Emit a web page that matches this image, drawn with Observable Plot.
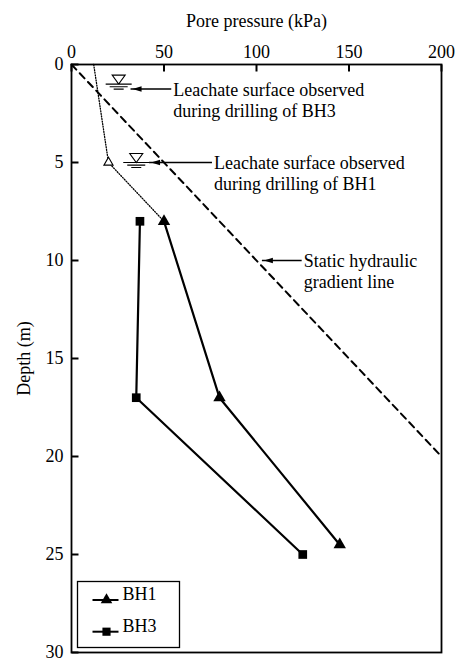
<!DOCTYPE html>
<html><head><meta charset="utf-8">
<script src="https://cdn.jsdelivr.net/npm/d3@7"></script>
<script src="https://cdn.jsdelivr.net/npm/@observablehq/plot@0.6"></script>
<style>body{margin:0;background:#fff} #chart svg{display:block}</style>
</head><body><div id="chart"></div>
<script>
// ---- data ----
const xTicks = [0, 50, 100, 150, 200];
const yTicks = [0, 5, 10, 15, 20, 25, 30];
const staticPressure = [0, 200];
const staticDepth = [0, 20];
const dottedPressure = [12, 20, 50];
const dottedDepth = [0, 5, 8];
const bh1Pressure = [50, 80, 145];
const bh1Depth = [8, 17, 24.5];
const bh3Pressure = [37, 35, 125];
const bh3Depth = [8, 17, 25];
const openTriPressure = [20];
const openTriDepth = [5];
const leachatePressure = [25.5, 35];
const leachateDepth = [1.0, 5];
const noteText = ["Leachate surface observed\nduring drilling of BH3", "Leachate surface observed\nduring drilling of BH1", "Static hydraulic\ngradient line"];
const noteX = [55, 77, 125.5];
const noteTip = [33, 43, 104];
const noteDepth = [1.25, 5, 10];
const legendLabels = ["BH1", "BH3"];
const legendSymbols = ["triangle", "square"];

// ---- tables ----
const pts = (xs, ys) => xs.map((x, i) => ({x, y: ys[i]}));
const staticLine = pts(staticPressure, staticDepth);
const dotted = pts(dottedPressure, dottedDepth);
const bh1 = pts(bh1Pressure, bh1Depth);
const bh3 = pts(bh3Pressure, bh3Depth);
const openTri = pts(openTriPressure, openTriDepth);
const leachate = pts(leachatePressure, leachateDepth);
const notes = noteText.map((t, i) => ({text: t, x: noteX[i], tip: noteTip[i], y: noteDepth[i]}));
const legend = legendLabels.map((l, i) => ({label: l, symbol: legendSymbols[i]}));

// ---- custom symbols ----
const waterSymbol = {draw(ctx) {
  ctx.moveTo(-6.5, -9); ctx.lineTo(6.5, -9); ctx.lineTo(0, 0); ctx.closePath();
  ctx.moveTo(-13, 0); ctx.lineTo(13, 0);
  ctx.moveTo(-9, 2.6); ctx.lineTo(9, 2.6);
  ctx.moveTo(-5, 5); ctx.lineTo(5, 5);
}};
const arrowHead = {draw(ctx) { ctx.moveTo(0, 0); ctx.lineTo(9, -2.8); ctx.lineTo(9, 2.8); ctx.closePath(); }};
const legendLine = {draw(ctx) { ctx.moveTo(-13, 0); ctx.lineTo(13, 0); }};
const tickDown = {draw(ctx) { ctx.moveTo(0, 0); ctx.lineTo(0, 7); }};
const tickRight = {draw(ctx) { ctx.moveTo(0, 0); ctx.lineTo(7, 0); }};

const font = "'Liberation Serif', 'Times New Roman', serif";

const legendMarks = legend.flatMap((d, i) => {
  const dy = -52.5 + i * 31.7;
  return [
    Plot.dot([d], {frameAnchor: "bottom-left", dx: 34, dy, symbol: legendLine, stroke: "black", strokeWidth: 2}),
    Plot.dot([d], {frameAnchor: "bottom-left", dx: 35, dy, symbol: d.symbol, r: d.symbol === "triangle" ? 4.3 : 4.6, fill: "black"}),
    Plot.text([d], {frameAnchor: "bottom-left", dx: 51, dy, text: "label", textAnchor: "start", fontSize: 18, fill: "black"})
  ];
});

const chart = Plot.plot({
  width: 461,
  height: 661,
  marginTop: 64,
  marginLeft: 71,
  marginRight: 20,
  marginBottom: 9,
  style: {fontFamily: font, fontSize: "18px", color: "black", background: "white"},
  x: {domain: [0, 200], axis: "top", ticks: xTicks, tickSize: 0, tickPadding: 7, label: "Pore pressure (kPa)", labelAnchor: "center", labelOffset: 50, labelArrow: "none"},
  y: {domain: [0, 30], reverse: true, ticks: yTicks, tickSize: 0, tickPadding: 8, label: "Depth (m)", labelAnchor: "center", labelOffset: 54, labelArrow: "none"},
  marks: [
    Plot.dot(xTicks, {x: d => d, frameAnchor: "top", symbol: tickDown, stroke: "black", strokeWidth: 2}),
    Plot.dot(yTicks, {y: d => d, frameAnchor: "left", symbol: tickRight, stroke: "black", strokeWidth: 2}),
    Plot.line(staticLine, {x: "x", y: "y", stroke: "black", strokeWidth: 2, strokeDasharray: "7,5"}),
    Plot.line(dotted, {x: "x", y: "y", stroke: "black", strokeWidth: 1.3, strokeDasharray: "1,1.6"}),
    Plot.line(bh1, {x: "x", y: "y", stroke: "black", strokeWidth: 2.2}),
    Plot.line(bh3, {x: "x", y: "y", stroke: "black", strokeWidth: 2.2}),
    Plot.dot(bh1, {x: "x", y: "y", symbol: "triangle", r: 4.6, fill: "black"}),
    Plot.dot(bh3, {x: "x", y: "y", symbol: "square", r: 4.9, fill: "black"}),
    Plot.dot(openTri, {x: "x", y: "y", symbol: "triangle", r: 3.4, fill: "white", stroke: "black", strokeWidth: 1.1}),
    Plot.dot(leachate, {x: "x", y: "y", symbol: waterSymbol, fill: "white", stroke: "black", strokeWidth: 1.1}),
    Plot.link(notes, {x1: "x", x2: "tip", y1: "y", y2: "y", dx: -2, stroke: "black", strokeWidth: 1.3}),
    Plot.dot(notes, {x: "tip", y: "y", symbol: arrowHead, fill: "black", stroke: "none"}),
    Plot.text(notes, {x: "x", y: "y", text: "text", textAnchor: "start", lineAnchor: "middle", lineHeight: 1.17, dy: 10.5, fontSize: 18, fill: "black"}),
    Plot.frame({stroke: "black", strokeWidth: 1.8}),
    Plot.frame({insetLeft: 6, insetTop: 517, insetRight: 262, insetBottom: 5, stroke: "black", strokeWidth: 1.3, fill: "white"}),
    ...legendMarks
  ]
});
document.getElementById("chart").append(chart);
</script>
</body></html>
